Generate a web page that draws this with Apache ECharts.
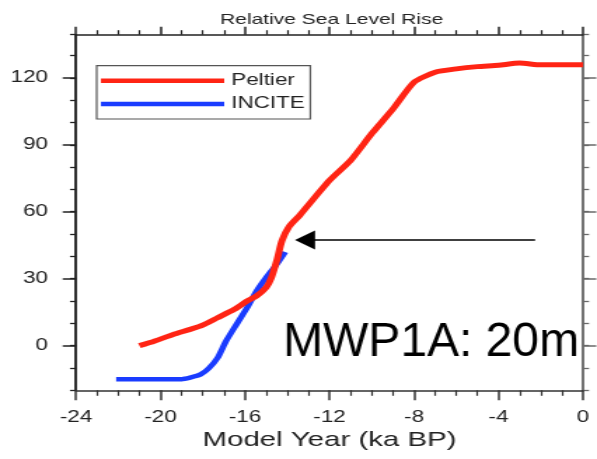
<!DOCTYPE html>
<html>
<head>
<meta charset="utf-8">
<script src="https://cdn.jsdelivr.net/npm/echarts@6/dist/echarts.min.js"></script>
<style>
html,body{margin:0;padding:0;background:#fff;}
#wrap{width:597px;height:459px;overflow:hidden;position:relative;}
#chart{width:426px;height:459px;transform:scaleX(1.40141);transform-origin:0 0;}
</style>
</head>
<body>
<div id="wrap"><div id="chart"></div></div>
<script>
// ---- data ----
const titleText = 'Relative Sea Level Rise';
const xAxisName = 'Model Year (ka BP)';
const seriesNames = ['Peltier', 'INCITE'];
const xTicks = [-24, -20, -16, -12, -8, -4, 0];
const yTicks = [0, 30, 60, 90, 120];
const peltierX = [-21, -20.3, -19.4, -18.6, -18, -17.3, -16.5, -15.9, -15.45, -15, -14.75, -14.5, -14.25, -13.9, -13.4, -13, -12, -11, -10, -9, -8, -7, -6, -5, -4, -3, -2, -1, 0];
const peltierY = [0, 2, 5, 7.3, 9.2, 12.5, 16.3, 20, 22.3, 26, 30.5, 38, 47, 53.5, 58.5, 63, 74, 83, 95, 106, 118, 122.5, 124, 125, 125.6, 126.6, 125.8, 125.8, 125.8];
const inciteX = [-22.1, -21, -20, -19, -18.6, -18.1, -17.7, -17.3, -16.9, -16.4, -15.9, -15.45, -15, -14.5, -14.1];
const inciteY = [-15, -15, -15, -15, -14.3, -12.9, -10, -5.5, 2, 9.6, 17, 24.5, 30.5, 36.5, 42];
const annotationText = 'MWP1A: 20m';
const arrowFrom = [-2.27, 47.3];
const arrowTo = [-13.16, 47.3];

// ---- chart ----
const S = 597 / 426;
const FONT = '"Liberation Sans", Arial, Helvetica, sans-serif';
const X_MIN = -24, X_MAX = 0, Y_MIN = -20, Y_MAX = 139.3;
const RED = '#ff2414', BLUE = '#1a3cff';

function pairs(xs, ys) { return xs.map((x, i) => [x, ys[i]]); }

const chart = echarts.init(document.getElementById('chart'), null, {renderer: 'canvas'});

function xAx(pos, showLabel, major, minor, color) {
  return {
    type: 'value', position: pos, min: X_MIN, max: X_MAX, interval: 4,
    axisLine: {show: true, onZero: false, lineStyle: {color: color, width: 1.5}},
    axisTick: {show: true, length: major, lineStyle: {color: color, width: 1.5}},
    minorTick: {show: true, splitNumber: 4, length: minor, lineStyle: {color: color, width: 1.2}},
    splitLine: {show: false}, minorSplitLine: {show: false},
    axisLabel: {show: showLabel, fontSize: 16, color: '#222', fontFamily: FONT, margin: 19,
      customValues: xTicks},
    name: showLabel ? xAxisName : '', nameLocation: 'middle', nameGap: 37,
    nameTextStyle: {fontSize: 21, color: '#222', fontFamily: FONT}
  };
}
function yMinor(pos, color) {
  return {
    type: 'value', position: pos, min: Y_MIN, max: Y_MAX, interval: 10,
    axisLine: {show: true, onZero: false, lineStyle: {color: color, width: 1.5}},
    axisTick: {show: true, length: 4.3, lineStyle: {color: color, width: 1.3}},
    axisLabel: {show: false}, splitLine: {show: false}
  };
}
function yMajor(pos, showLabel, color) {
  return {
    type: 'value', position: pos, min: Y_MIN, max: Y_MAX,
    axisLine: {show: true, onZero: false, lineStyle: {color: color, width: 1.5}},
    axisTick: {show: true, length: 9.5, customValues: yTicks, lineStyle: {color: color, width: 1.5}},
    axisLabel: {show: showLabel, customValues: yTicks, fontSize: 16, color: '#222', fontFamily: FONT, margin: 20},
    splitLine: {show: false}
  };
}

chart.setOption({
  animation: false,
  backgroundColor: '#fff',
  title: {
    text: titleText, left: 152, top: 7,
    textStyle: {fontSize: 15, fontWeight: 'normal', color: '#222', fontFamily: FONT}
  },
  grid: {left: 76 / S, right: 426 - 583 / S, top: 34.7, bottom: 68.7, containLabel: false},
  legend: {
    data: [{name: seriesNames[0], icon: 'rect'}, {name: seriesNames[1], icon: 'rect'}],
    orient: 'vertical', left: 69, top: 65.7,
    itemWidth: 88, itemHeight: 4.5, itemGap: 7.3, padding: [7, 4, 7, 3],
    borderColor: '#555', borderWidth: 1.2, backgroundColor: '#fff',
    textStyle: {fontSize: 16, color: '#222', fontFamily: FONT},
    selectedMode: false
  },
  xAxis: [xAx('bottom', true, 10, 5.5, '#333'), xAx('top', false, 8, 4.5, '#222')],
  yAxis: [yMinor('left', '#222'), yMajor('left', true, '#222'), yMinor('right', '#6a6a6a'), yMajor('right', false, '#6a6a6a')],
  series: [
    {
      name: seriesNames[0], type: 'line', xAxisIndex: 0, yAxisIndex: 0,
      data: pairs(peltierX, peltierY), symbol: 'none', smooth: 0.2,
      lineStyle: {color: RED, width: 5},
      itemStyle: {color: RED},
      markLine: {
        silent: true, symbol: ['none', 'triangle'], symbolSize: [19, 14.3],
        label: {show: false},
        lineStyle: {color: '#000', width: 1.5, type: 'solid'},
        itemStyle: {color: '#000'},
        data: [[{coord: arrowFrom}, {coord: arrowTo}]]
      },
      z: 3
    },
    {
      name: seriesNames[1], type: 'line', xAxisIndex: 0, yAxisIndex: 0,
      data: pairs(inciteX, inciteY), symbol: 'none', smooth: 0.2,
      lineStyle: {color: BLUE, width: 4.5},
      itemStyle: {color: BLUE},
      z: 2
    }
  ],
  graphic: [{
    type: 'text', x: 283 / S, y: 343, scaleX: 1 / S, z: 10,
    style: {text: annotationText, font: '48px ' + FONT, fill: '#000', verticalAlign: 'middle', align: 'left'}
  }]
});
</script>
</body>
</html>
